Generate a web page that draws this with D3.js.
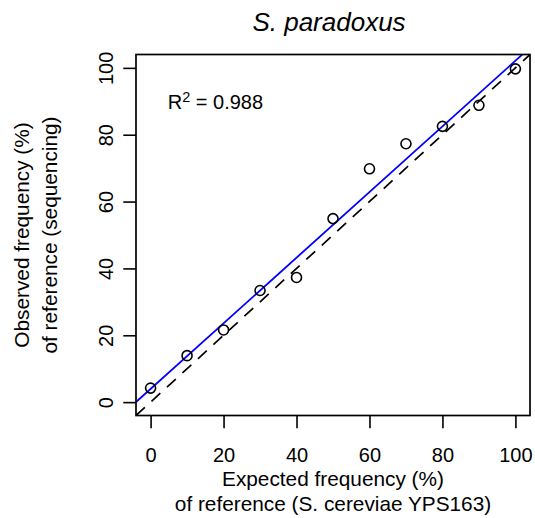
<!DOCTYPE html>
<html>
<head>
<meta charset="utf-8">
<script src="https://cdn.jsdelivr.net/npm/d3@7"></script>
<style>
  body { margin: 0; background: #fff; }
  svg { display: block; }
  text { font-family: "Liberation Sans", Arial, Helvetica, sans-serif; fill: #000; }
</style>
</head>
<body>
<svg id="chart" width="535" height="518"></svg>
<script>
// ---- data ----
const expected = [0, 10, 20, 30, 40, 50, 60, 70, 80, 90, 100];
const observed = [4.2, 13.9, 21.6, 33.4, 37.3, 54.9, 69.8, 77.3, 82.5, 88.8, 99.7];
const xTicks = [0, 20, 40, 60, 80, 100];
const yTicks = [0, 20, 40, 60, 80, 100];
const titleText = "S. paradoxus";
const xLabelLines = ["Expected frequency (%)", "of reference (S. cereviae YPS163)"];
const yLabelLines = ["Observed frequency (%)", "of reference (sequencing)"];
const r2Label = "0.988";

// ---- layout ----
const svg = d3.select("#chart");
const L = 136, R = 530, T = 54.5, B = 415.5;
const x = d3.scaleLinear().domain([-4, 104]).range([L, R]);
const y = d3.scaleLinear().domain([-4, 104]).range([B, T]);

// linear regression (observed ~ expected)
const mx = d3.mean(expected), my = d3.mean(observed);
const sxy = d3.sum(expected, (d, i) => (d - mx) * (observed[i] - my));
const sxx = d3.sum(expected, d => (d - mx) * (d - mx));
const slope = sxy / sxx, intercept = my - slope * mx;

svg.append("defs").append("clipPath").attr("id", "clip")
  .append("rect").attr("x", L).attr("y", T).attr("width", R - L).attr("height", B - T);

const plot = svg.append("g").attr("clip-path", "url(#clip)");

// dashed identity line
plot.append("line")
  .attr("x1", x(-4)).attr("y1", y(-4)).attr("x2", x(104)).attr("y2", y(104))
  .attr("stroke", "#000").attr("stroke-width", 1.7)
  .attr("stroke-dasharray", "12,9");

// regression line
plot.append("line")
  .attr("x1", x(-4)).attr("y1", y(intercept + slope * -4))
  .attr("x2", x(110)).attr("y2", y(intercept + slope * 110))
  .attr("stroke", "#0000ff").attr("stroke-width", 1.8);

// points
svg.append("g").selectAll("circle").data(expected).join("circle")
  .attr("cx", d => x(d)).attr("cy", (d, i) => y(observed[i]))
  .attr("r", 5).attr("fill", "none").attr("stroke", "#000").attr("stroke-width", 1.6);

// box
svg.append("rect").attr("x", L).attr("y", T).attr("width", R - L).attr("height", B - T)
  .attr("fill", "none").attr("stroke", "#000").attr("stroke-width", 1.7);

// x axis
const xAxis = d3.axisBottom(x).tickValues(xTicks).tickSize(12.7).tickPadding(6).tickFormat(d3.format("d"));
const gx = svg.append("g").attr("transform", `translate(0,${B})`).call(xAxis);
gx.select(".domain").remove();
gx.selectAll(".tick line").attr("stroke", "#000").attr("stroke-width", 1.6);
gx.selectAll(".tick text").attr("font-size", 20).attr("dy", null).attr("y", 46.8)
  .attr("font-family", "Liberation Sans, Arial, sans-serif");

// y axis
const yAxis = d3.axisLeft(y).tickValues(yTicks).tickSize(12.7).tickFormat(d3.format("d"));
const gy = svg.append("g").attr("transform", `translate(${L},0)`).call(yAxis);
gy.select(".domain").remove();
gy.selectAll(".tick line").attr("stroke", "#000").attr("stroke-width", 1.6);
gy.selectAll(".tick text")
  .attr("font-size", 20).attr("font-family", "Liberation Sans, Arial, sans-serif")
  .attr("x", null).attr("dy", null)
  .attr("text-anchor", "middle")
  .attr("transform", `translate(${113.3 - L},0) rotate(-90)`);

// title
svg.append("text").attr("x", (L + R) / 2 - 4).attr("y", 30.7)
  .attr("text-anchor", "middle").attr("font-size", 26).attr("font-style", "italic")
  .text(titleText);

// x label
svg.append("g").selectAll("text").data(xLabelLines).join("text")
  .attr("x", (L + R) / 2).attr("y", (d, i) => 486 + i * 25.3)
  .attr("text-anchor", "middle").attr("font-size", 20.8).text(d => d);

// y label
svg.append("g").selectAll("text").data(yLabelLines).join("text")
  .attr("transform", (d, i) => `translate(${29 + i * 28.3},${(T + B) / 2}) rotate(-90)`)
  .attr("text-anchor", "middle").attr("font-size", 20.8).text(d => d);

// R^2 annotation
const rt = svg.append("text").attr("x", 167.7).attr("y", 109.3).attr("font-size", 20);
rt.append("tspan").text("R");
rt.append("tspan").attr("font-size", 14.5).attr("dy", -7).text("2");
rt.append("tspan").attr("dy", 7).text(" = " + r2Label);
</script>
</body>
</html>
